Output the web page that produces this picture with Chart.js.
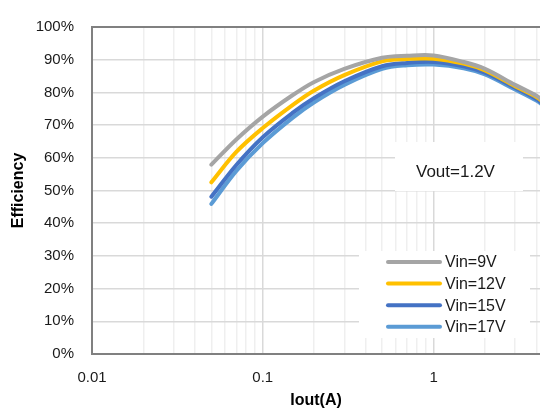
<!DOCTYPE html>
<html>
<head>
<meta charset="utf-8">
<script src="https://cdn.jsdelivr.net/npm/chart.js@4.4.1/dist/chart.umd.min.js"></script>
<style>
    html, body { margin: 0; padding: 0; background: #fff; overflow: hidden; }
    #wrap { width: 540px; height: 419px; position: relative; }
</style>
</head>
<body>
<div id="wrap"><canvas id="effChart"></canvas></div>
<script>
// load current (A)
const iout = [0.05, 0.07, 0.1, 0.15, 0.2, 0.3, 0.5, 0.7, 1, 1.5, 2, 3, 4, 4.5];

// efficiency (%) per input voltage
const vin9 = [57.9, 65.6, 72.6, 79.2, 83.2, 87.2, 90.6, 91.2, 91.3, 89.3, 87.2, 82.3, 79.0, 77.0];
const vin12 = [52.5, 61.8, 69.1, 76.2, 80.6, 85.3, 89.5, 90.2, 90.3, 88.8, 86.7, 81.9, 78.6, 76.6];
const vin15 = [48.1, 57.8, 66.3, 73.8, 78.3, 83.4, 88.0, 89.0, 89.3, 88.0, 86.0, 81.4, 78.0, 76.0];
const vin17 = [45.9, 56.0, 64.5, 72.3, 77.0, 82.3, 87.2, 88.3, 88.5, 87.4, 85.5, 80.9, 77.5, 75.5];

const seriesLabels = ['Vin=9V', 'Vin=12V', 'Vin=15V', 'Vin=17V'];
const seriesColors = ['#A5A5A5', '#FFC000', '#4472C4', '#5B9BD5'];
const xTickLabels = ['0.01', '0.1', '1'];
const yTicks = [0, 10, 20, 30, 40, 50, 60, 70, 80, 90, 100];
const noteText = 'Vout=1.2V';

const FONT = '"Liberation Sans", Arial, sans-serif';
const isDecade = v => Math.abs(Math.log10(v) - Math.round(Math.log10(v))) < 1e-9;

const makeSet = (label, values, color) => ({
    label: label,
    data: iout.map((x, i) => ({ x: x, y: values[i] })),
    borderColor: color,
    backgroundColor: color,
    borderWidth: 4,
    borderCapStyle: 'round',
    pointRadius: 0,
    tension: 0.35,
    fill: false,
});

// top frame line + text box + legend inside the plot
const decorations = {
    id: 'decorations',
    afterDatasetsDraw(chart) {
        const { ctx, chartArea } = chart;
        ctx.save();
        ctx.strokeStyle = '#808080';
        ctx.lineWidth = 2;
        ctx.beginPath();
        ctx.moveTo(chartArea.left, chartArea.top);
        ctx.lineTo(chartArea.right, chartArea.top);
        ctx.stroke();

        // note box
        const nx = chartArea.right - 145, ny = chartArea.top + 115;
        ctx.fillStyle = '#fff';
        ctx.fillRect(nx, ny, 128, 49);
        ctx.fillStyle = '#1a1a1a';
        ctx.font = '17px ' + FONT;
        ctx.textBaseline = 'middle';
        ctx.textAlign = 'left';
        ctx.fillText(noteText, nx + 21, ny + 30);

        // legend
        const lx = chartArea.right - 181, ly = chartArea.bottom - 103;
        ctx.fillStyle = '#fff';
        ctx.fillRect(lx, ly, 171, 87);
        ctx.font = '16px ' + FONT;
        chart.data.datasets.forEach((ds, i) => {
            const y = ly + 11 + i * 21.6;
            ctx.strokeStyle = ds.borderColor;
            ctx.lineWidth = 4;
            ctx.lineCap = 'round';
            ctx.beginPath();
            ctx.moveTo(lx + 29, y);
            ctx.lineTo(lx + 81, y);
            ctx.stroke();
            ctx.fillStyle = '#1a1a1a';
            ctx.fillText(ds.label, lx + 86, y + 1);
        });
        ctx.restore();
    }
};

new Chart(document.getElementById('effChart').getContext('2d'), {
    type: 'line',
    data: {
        datasets: seriesLabels.map((l, i) => makeSet(l, [vin9, vin12, vin15, vin17][i], seriesColors[i])),
    },
    options: {
        responsive: true,
        maintainAspectRatio: false,
        animation: false,
        layout: { padding: { top: 14, right: 0, bottom: 0, left: 0 } },
        plugins: {
            legend: { display: false },
            tooltip: { enabled: false },
        },
        scales: {
            x: {
                type: 'logarithmic',
                min: 0.01,
                max: 4.2,
                afterBuildTicks: scale => {
                    scale.ticks = scale.ticks.filter(t => {
                        const p = Math.pow(10, Math.floor(Math.log10(t.value) + 1e-9));
                        const d = t.value / p;
                        return Math.abs(d - Math.round(d)) < 1e-6;
                    });
                },
                afterFit: scale => {
                    scale.height = 65;
                    scale.paddingLeft = 0;
                    scale.paddingRight = 0;
                },
                grid: {
                    drawTicks: false,
                    lineWidth: 1.5,
                    color: c => (c.tick && isDecade(c.tick.value)) ? '#d9d9d9' : '#efefef',
                },
                border: { display: true, color: '#808080', width: 2 },
                ticks: {
                    autoSkip: false,
                    maxRotation: 0,
                    padding: 15,
                    color: '#1a1a1a',
                    font: { family: FONT, size: 15 },
                    callback: function (value) {
                        const s = String(Number(value.toPrecision(3)));
                        return xTickLabels.includes(s) ? s : '';
                    },
                },
                title: {
                    display: true,
                    text: 'Iout(A)',
                    color: '#000',
                    font: { family: FONT, size: 16, weight: 'bold' },
                    padding: { top: 0, bottom: 9 },
                },
            },
            y: {
                min: 0,
                max: 100,
                afterBuildTicks: scale => { scale.ticks = yTicks.map(v => ({ value: v })); },
                afterFit: scale => { scale.width = 92; },
                grid: { drawTicks: false, color: '#d9d9d9', lineWidth: 1.5 },
                border: { display: true, color: '#808080', width: 2 },
                ticks: {
                    padding: 18,
                    color: '#1a1a1a',
                    font: { family: FONT, size: 15 },
                    callback: value => value + '%',
                },
                title: {
                    display: true,
                    text: 'Efficiency',
                    color: '#000',
                    font: { family: FONT, size: 16, weight: 'bold' },
                    padding: { top: 9, bottom: 0 },
                },
            },
        },
    },
    plugins: [decorations],
});
</script>
</body>
</html>
